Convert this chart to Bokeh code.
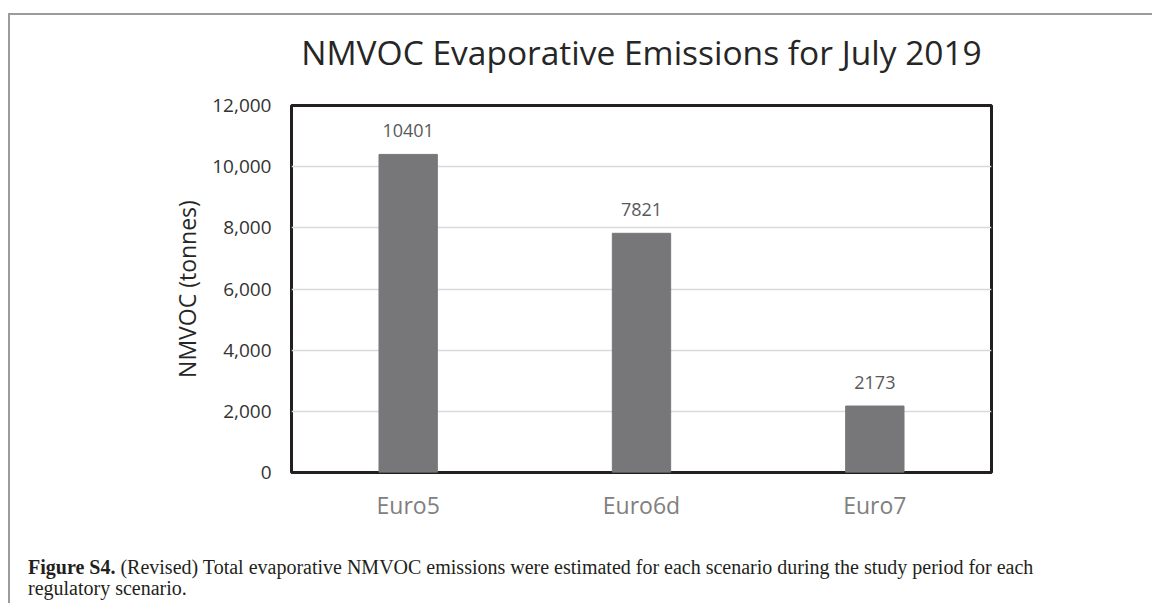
from bokeh.plotting import figure
from bokeh.layouts import column
from bokeh.models import ColumnDataSource, NumeralTickFormatter, FixedTicker, Div, Title
from bokeh.core.properties import value
from bokeh.embed import file_html
from bokeh.resources import INLINE

categories = ["Euro5", "Euro6d", "Euro7"]
values = [10401, 7821, 2173]
y_ticks = [0, 2000, 4000, 6000, 8000, 10000, 12000]
title_text = "NMVOC Evaporative Emissions for July 2019"
y_label = "NMVOC (tonnes)"
caption_bold = "Figure S4."
caption_line1 = "(Revised) Total evaporative NMVOC emissions were estimated for each scenario during the study period for each"
caption_line2 = "regulatory scenario."

SANS = "Open Sans"
SERIF = "Liberation Serif"

OX, OY = 10, 15
W = 1152 - OX
CH = 515
FL, FT, FR, FB = 291 - OX, 105 - OY, 161, CH - (472 - OY)

p = figure(x_range=categories, y_range=(0, 12000), width=W, height=CH,
           output_backend="svg", toolbar_location=None,
           min_border_left=FL, min_border_top=FT,
           min_border_right=FR, min_border_bottom=FB)

src = ColumnDataSource(dict(cat=categories, val=values, lab=[str(v) for v in values]))
p.vbar(x="cat", top="val", width=0.25, source=src, fill_color="#77777a", line_color="#77777a")
p.text(x="cat", y="val", text="lab", source=src, text_align="center", text_baseline="alphabetic",
       y_offset=-24, text_font=value(SANS), text_font_size="18px", text_color="#595959")

# spacer between frame and title, then the title itself (added later = farther from frame)
p.add_layout(Title(text=" ", text_font_size="2px", standoff=25), "above")
p.add_layout(Title(text=title_text, align="center", vertical_align="top", standoff=0,
                   text_font=SANS, text_font_size="33.5px", text_font_style="normal",
                   text_color="#262626"), "above")

p.outline_line_color = "#231f20"
p.outline_line_width = 3
p.xgrid.grid_line_color = None
p.ygrid.grid_line_color = "#d9d9d9"
p.ygrid.grid_line_width = 1.5
p.border_fill_color = "white"

p.yaxis.ticker = FixedTicker(ticks=y_ticks)
p.yaxis.formatter = NumeralTickFormatter(format="0,0")
for ax in (p.xaxis, p.yaxis):
    ax.axis_line_color = None
    ax.major_tick_line_color = None
    ax.minor_tick_line_color = None
p.yaxis.major_label_text_font = SANS
p.yaxis.major_label_text_font_size = "19px"
p.yaxis.major_label_text_color = "#333333"
p.yaxis.major_label_standoff = 14
p.yaxis.axis_label = y_label
p.yaxis.axis_label_text_font = SANS
p.yaxis.axis_label_text_font_size = "23px"
p.yaxis.axis_label_text_font_style = "normal"
p.yaxis.axis_label_text_color = "#262626"
p.yaxis.axis_label_standoff = 6
p.xaxis.major_label_text_font = SANS
p.xaxis.major_label_text_font_size = "23px"
p.xaxis.major_label_text_color = "#808080"
p.xaxis.major_label_standoff = 10

CAPH = 603 - OY - CH
cap = Div(text=f"<b>{caption_bold}</b> {caption_line1}<br>{caption_line2}",
          width=W, height=CAPH,
          styles={"font-family": SERIF, "font-size": "20px", "line-height": "21px",
                  "color": "#231f20", "padding-left": "13px", "padding-top": "22px",
                  "white-space": "nowrap", "box-sizing": "border-box"})

lay = column(p, cap, spacing=0,
             styles={"margin-left": "8px", "margin-top": "13px",
                     "border-left": "2px solid #9b9b9b", "border-top": "2px solid #9b9b9b"})

open("out.html", "w").write(file_html(lay, INLINE))
